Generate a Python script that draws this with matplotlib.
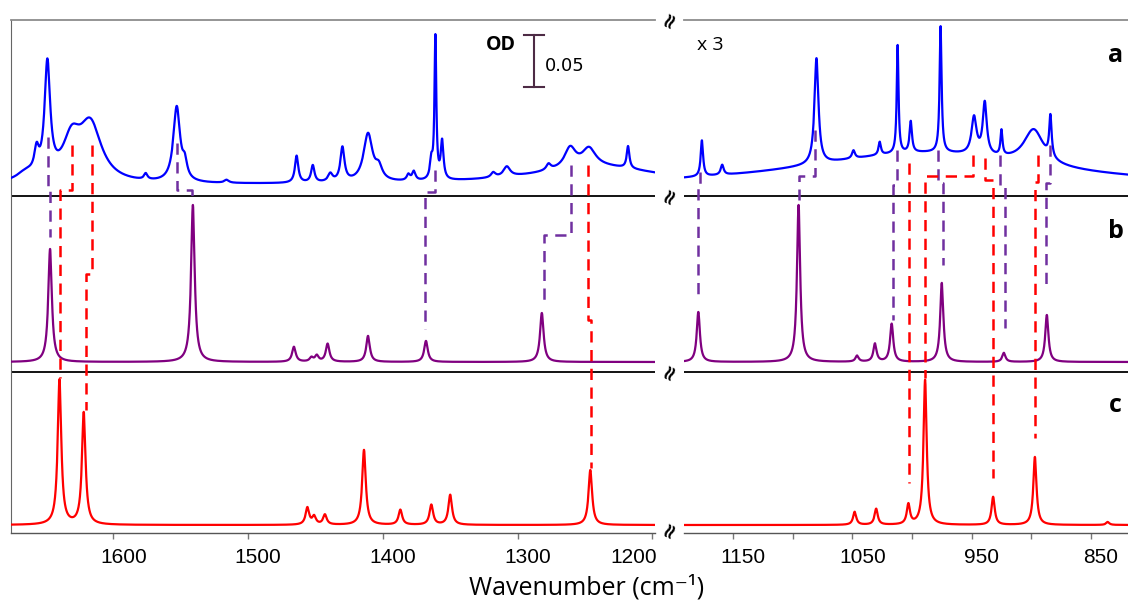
import numpy as np
import matplotlib.pyplot as plt
from matplotlib.transforms import ScaledTranslation

# ---- peak tables: (wavenumber, height, half width) ; heights in stacked offset units
a_offset_left = 348
a_peaks_left = [
    (1665, 8, 8), (1657, 22, 2), (1649, 112, 2.5), (1631, 38, 8), (1617, 56, 10),
    (1576, 6, 1.5), (1553, 75, 3), (1547, 15, 2), (1516, 3, 2),
    (1464, 27, 1.5), (1452, 17, 1.5), (1439, 8, 2), (1430, 34, 1.8),
    (1411, 48, 4), (1403, 12, 3), (1381, 6, 1.5), (1377, 9, 1.5),
    (1364, 18, 1.2), (1361, 142, 0.8), (1356, 38, 1.2),
    (1240, 18, 60), (1318, 5, 2), (1308, 10, 3), (1277, 6, 2),
    (1261, 20, 5), (1247, 18, 6), (1218, 22, 1.2),
]
a_offset_right = 345
a_peaks_right = [
    (990, 35, 130), (898, 35, 10),
    (1176, 36, 1.2), (1159, 10, 1.5), (1080, 106, 2), (1049, 8, 1.5),
    (1027, 13, 1.2), (1012, 108, 0.9), (1001, 31, 1.2), (976, 126, 1.0),
    (948, 37, 2.5), (939, 52, 2), (925, 25, 1.0), (884, 41, 1.2),
]

b_offset = 171
b_peaks_left = [(1647, 113), (1541, 157), (1466, 15), (1453, 4), (1449, 6),
                (1441, 18), (1411, 26), (1368, 21), (1282, 49)]
b_peaks_right = [(1179, 50), (1095, 157), (1046, 6), (1031, 18), (1017, 38),
                 (975, 79), (923, 9), (887, 47)]

c_offset = 8
c_peaks_left = [(1640, 145), (1622, 112), (1456, 17), (1451, 8), (1443, 10),
                (1414, 75), (1387, 15), (1364, 20), (1350, 30), (1246, 55)]
c_peaks_right = [(1048, 13), (1030, 16), (1003, 20), (989, 145), (932, 28),
                 (897, 68), (836, 3)]

# assignment guides: (wavenumber, level) corner points
purple_links = [
    [(1648.9, 396), (1648.9, 345), (1646.7, 345), (1646.7, 296)],
    [(1552.6, 390), (1552.6, 343), (1541.5, 343), (1541.5, 333)],
    [(1361.5, 363), (1361.5, 341), (1368.9, 341), (1368.9, 204)],
    [(1260.7, 368), (1260.7, 298), (1280.7, 298), (1280.7, 230)],
    [(1177.7, 361), (1177.7, 348), (1179.4, 348), (1179.4, 236)],
    [(1081.2, 403), (1081.2, 357), (1094.6, 357), (1094.6, 333)],
    [(1012.4, 383), (1012.4, 348), (1015.8, 348), (1015.8, 213)],
    [(978.0, 383), (978.0, 350), (973.8, 350), (973.8, 268)],
    [(926.0, 378), (926.0, 346), (921.8, 346), (921.8, 205)],
    [(884.1, 388), (884.1, 350), (887.4, 350), (887.4, 246)],
]
red_links = [
    [(1630.4, 388), (1630.4, 343), (1639.3, 343), (1639.3, 155)],
    [(1615.6, 388), (1615.6, 259), (1620.0, 259), (1620.0, 123)],
    [(1248.1, 368), (1248.1, 213), (1245.2, 213), (1245.2, 65)],
    [(1002.3, 370), (1002.3, 50)],
    [(948.7, 378), (948.7, 357), (988.9, 357), (988.9, 155)],
    [(938.6, 375), (938.6, 353), (931.9, 353), (931.9, 55)],
    [(894.1, 378), (894.1, 351), (896.6, 351), (896.6, 95)],
]

left_ticks = [1600, 1500, 1400, 1300, 1200]
right_ticks = [1150, 1050, 950, 850]
right_minor = [1100, 1000, 900]

left_range = (1676, 1198)
right_range = (1191, 819)
sep_levels = [161, 337]
top_level = 513


def lorentz(x, peaks, width=None):
    y = np.zeros_like(x)
    for p in peaks:
        c, h = p[0], p[1]
        w = p[2] if width is None else width
        y += h / (1 + ((x - c) / w) ** 2)
    return y


fig = plt.figure(figsize=(11.28, 6.01), dpi=100)
ax1 = fig.add_axes([11 / 1128, 68 / 601, 644 / 1128, 513 / 601])
ax2 = fig.add_axes([684 / 1128, 68 / 601, 444 / 1128, 513 / 601])

panels = [
    (ax1, left_range, a_offset_left, a_peaks_left, b_peaks_left, c_peaks_left),
    (ax2, right_range, a_offset_right, a_peaks_right, b_peaks_right, c_peaks_right),
]
for ax, xr, a_off, a_pk, b_pk, c_pk in panels:
    x = np.arange(min(xr), max(xr), 0.05)
    ax.plot(x, a_off + lorentz(x, a_pk), color="#0000ff", lw=1.6, zorder=3)
    ax.plot(x, b_offset + lorentz(x, b_pk, 1.6), color="#800080", lw=1.6, zorder=3)
    ax.plot(x, c_offset + lorentz(x, c_pk, 1.6), color="#ff0000", lw=1.6, zorder=3)
    for lvl in sep_levels:
        ax.axhline(lvl, color="black", lw=1.3, zorder=2)
    for links, col in [(purple_links, "#7030a0"), (red_links, "#ff0000")]:
        for path in links:
            px = [p[0] for p in path]
            if not (min(xr) <= px[0] <= max(xr)):
                continue
            ax.plot(px, [p[1] for p in path], color=col, lw=1.8,
                    dashes=(4.5, 3), zorder=4)
    ax.set_xlim(xr)
    ax.set_ylim(0, top_level)
    ax.set_yticks([])
    ax.spines["right"].set_visible(False)
    ax.spines["top"].set_color("#8c8c8c")
    ax.spines["top"].set_linewidth(1.3)
    ax.spines["bottom"].set_color("#555555")
    ax.spines["bottom"].set_linewidth(1.0)
    ax.tick_params(axis="both", which="both", direction="out", length=4, width=1,
                   color="#777777", pad=7, labelsize=15)
    ax.patch.set_alpha(0)

ax1.spines["left"].set_color("#666666")
ax1.set_xticks(left_ticks)
ax2.spines["left"].set_visible(False)
ax2.set_xticks(right_ticks)
ax2.set_xticks(right_minor, minor=True)

# labels sit a little to the right of their ticks, as in the source figure
for ax in (ax1, ax2):
    for lab in ax.get_xticklabels():
        lab.set_family("Liberation Sans")
        dx = -19 if lab.get_text() == "1200" else 10
        lab.set_transform(lab.get_transform() +
                          ScaledTranslation(dx / 100, 0, fig.dpi_scale_trans))

# OD scale bar
bar_x, bar_lo, bar_hi, cap = 1288, 446, 498, 7.5
ax1.plot([bar_x, bar_x], [bar_lo, bar_hi], color="#4d2b45", lw=1.5)
ax1.plot([bar_x - cap, bar_x + cap], [bar_hi, bar_hi], color="#4d2b45", lw=1.5)
ax1.plot([bar_x - cap, bar_x + cap], [bar_lo, bar_lo], color="#4d2b45", lw=1.5)
ax1.text(1301, 488, "OD", ha="right", va="center", fontsize=14,
         fontweight="bold", family="Open Sans")
ax1.text(1280, 467, "0.05", ha="left", va="center", fontsize=13, family="DejaVu Sans")

ax2.text(1180, 488, "x 3", ha="left", va="center", fontsize=14, family="Open Sans")
for lab, lvl in zip(["a", "b", "c"], [478, 302, 128]):
    ax2.text(829.5, lvl, lab, ha="center", va="center", fontsize=18,
             fontweight="bold", family="Open Sans")

# axis break marks
for yp in [20, 196, 372, 530]:
    fig.text(670 / 1128, 1 - yp / 601, "\u2248", rotation=65, ha="center",
             va="center", fontsize=15, fontweight="bold")

fig.text(587 / 1128, 1 - 588 / 601, "Wavenumber (cm\u207b\u00b9)", ha="center",
         va="center", fontsize=18, family=["Open Sans", "DejaVu Sans"])

fig.savefig("out.png", dpi=100)
